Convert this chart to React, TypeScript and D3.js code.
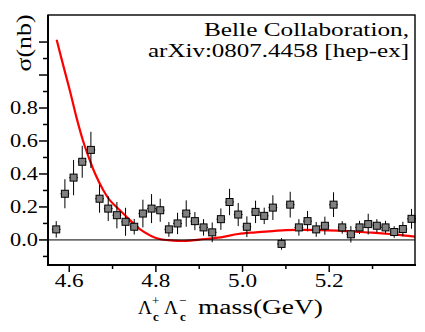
import React from "react";
import * as d3 from "d3";

const massBins = [4.57, 4.59, 4.61, 4.63, 4.65, 4.67, 4.69, 4.71, 4.73, 4.75, 4.77, 4.79, 4.81, 4.83, 4.85, 4.87, 4.89, 4.91, 4.93, 4.95, 4.97, 4.99, 5.01, 5.03, 5.05, 5.07, 5.09, 5.11, 5.13, 5.15, 5.17, 5.19, 5.21, 5.23, 5.25, 5.27, 5.29, 5.31, 5.33, 5.35, 5.37, 5.39];
const sigmaValues = [0.064, 0.28, 0.378, 0.474, 0.546, 0.25, 0.19, 0.15, 0.11, 0.08, 0.16, 0.19, 0.18, 0.064, 0.10, 0.16, 0.114, 0.076, 0.046, 0.126, 0.23, 0.154, 0.08, 0.17, 0.146, 0.196, -0.024, 0.214, 0.076, 0.114, 0.064, 0.086, 0.214, 0.076, 0.034, 0.076, 0.096, 0.086, 0.076, 0.048, 0.066, 0.128];
const sigmaErrors = [0.05, 0.088, 0.107, 0.097, 0.11, 0.085, 0.075, 0.08, 0.085, 0.047, 0.084, 0.088, 0.07, 0.045, 0.065, 0.08, 0.055, 0.05, 0.06, 0.065, 0.08, 0.07, 0.063, 0.068, 0.05, 0.075, 0.035, 0.078, 0.05, 0.062, 0.045, 0.055, 0.075, 0.038, 0.05, 0.04, 0.063, 0.04, 0.04, 0.035, 0.044, 0.06];
const binHalfWidth = 0.01;

const fitMass = [4.571, 4.586, 4.602, 4.617, 4.632, 4.648, 4.66, 4.679, 4.694, 4.717, 4.74, 4.763, 4.8, 4.84, 4.87, 4.9, 4.95, 4.99, 5.03, 5.07, 5.1, 5.14, 5.18, 5.22, 5.26, 5.3, 5.34, 5.37, 5.4];
const fitSigma = [1.214, 1.06, 0.9, 0.74, 0.6, 0.48, 0.4, 0.3, 0.24, 0.18, 0.12, 0.065, 0.012, -0.004, -0.006, 0.002, 0.016, 0.036, 0.046, 0.054, 0.06, 0.061, 0.06, 0.056, 0.05, 0.044, 0.036, 0.028, 0.02];

const xMajorTicks = [4.6, 4.8, 5.0, 5.2];
const xMinorTicks = [4.7, 4.9, 5.1, 5.3];
const yMajorTicks = [0.0, 0.2, 0.4, 0.6, 0.8, 1.0, 1.2];
const yLabeledTicks = [0.0, 0.2, 0.4, 0.6, 0.8];
const yMinorTicks = [-0.1, 0.1, 0.3, 0.5, 0.7, 0.9, 1.1];

const titleLines = ["Belle Collaboration,", "arXiv:0807.4458 [hep-ex]"];
const titleWidths = [205, 261];

const W = 425, H = 332;
const L = 48, R = 415, T = 15, B = 265;
const FONT = '"Liberation Serif", "DejaVu Serif", "Times New Roman", Times, serif';
const fontStyle = { fontFamily: FONT };

export default function App() {
  const x = d3.scaleLinear().domain([4.551, 5.398]).range([L, R]);
  const y = d3.scaleLinear().domain([-0.152, 1.364]).range([B, T]);

  const fitPts = fitMass.map((m, i) => [m, fitSigma[i]] as [number, number]);
  const line = d3
    .line<[number, number]>()
    .x((d) => x(d[0]))
    .y((d) => y(d[1]))
    .curve(d3.curveCatmullRom.alpha(0.5));

  const box = 7;
  const fmt = d3.format(".1f");

  return (
    <svg
      width={W}
      height={H}
      viewBox={`0 0 ${W} ${H}`}
      style={{ position: "absolute", left: 0, top: 0, background: "#fff" }}
    >
      <defs>
        <clipPath id="plotclip">
          <rect x={L} y={T} width={R - L} height={B - T} />
        </clipPath>
      </defs>
      <rect x={0} y={0} width={W} height={H} fill="#fff" />

      <path
        d={line(fitPts) || ""}
        fill="none"
        stroke="#ff0000"
        strokeWidth={2.2}
        clipPath="url(#plotclip)"
      />

      <line x1={L} x2={R} y1={y(0)} y2={y(0)} stroke="#000" strokeWidth={1} />

      {massBins.map((m, i) => {
        const cx = x(m);
        const cy = y(sigmaValues[i]);
        return (
          <g key={i}>
            <line
              x1={cx}
              x2={cx}
              y1={y(sigmaValues[i] + sigmaErrors[i])}
              y2={y(sigmaValues[i] - sigmaErrors[i])}
              stroke="#000"
              strokeWidth={1}
            />
            <line
              x1={x(m - binHalfWidth)}
              x2={x(m + binHalfWidth)}
              y1={cy}
              y2={cy}
              stroke="#000"
              strokeWidth={1}
            />
            <rect
              x={cx - box / 2}
              y={cy - box / 2}
              width={box}
              height={box}
              fill="#808080"
              stroke="#000"
              strokeWidth={1}
            />
          </g>
        );
      })}

      <rect x={L} y={T} width={R - L} height={B - T} fill="none" stroke="#000" strokeWidth={1.4} />
      <line x1={L} x2={L} y1={T} y2={B + 1} stroke="#000" strokeWidth={2} />
      <line x1={L - 1} x2={R + 1} y1={B} y2={B} stroke="#000" strokeWidth={2} />

      {yMajorTicks.map((t) => (
        <line key={"ym" + t} x1={L - 9} x2={L} y1={y(t)} y2={y(t)} stroke="#000" strokeWidth={1.5} />
      ))}
      {yMinorTicks.map((t) => (
        <line key={"yn" + t} x1={L - 5} x2={L} y1={y(t)} y2={y(t)} stroke="#000" strokeWidth={1.5} />
      ))}
      {yLabeledTicks.map((t) => (
        <text
          key={"yl" + t}
          x={L - 10}
          y={y(t)}
          dy="0.35em"
          textAnchor="end"
          style={fontStyle}
          fontSize={18}
          textLength={28}
          lengthAdjust="spacingAndGlyphs"
        >
          {fmt(t)}
        </text>
      ))}

      {xMajorTicks.map((t) => (
        <line key={"xm" + t} x1={x(t)} x2={x(t)} y1={B} y2={B + 7} stroke="#000" strokeWidth={1.5} />
      ))}
      {xMinorTicks.map((t) => (
        <line key={"xn" + t} x1={x(t)} x2={x(t)} y1={B} y2={B + 4} stroke="#000" strokeWidth={1.5} />
      ))}
      {xMajorTicks.map((t) => (
        <text
          key={"xl" + t}
          x={x(t)}
          y={287}
          textAnchor="middle"
          style={fontStyle}
          fontSize={18}
          textLength={29}
          lengthAdjust="spacingAndGlyphs"
        >
          {fmt(t)}
        </text>
      ))}

      <g style={fontStyle}>
        <text x={138} y={314} fontSize={19} textLength={14} lengthAdjust="spacingAndGlyphs">Λ</text>
        <text x={152} y={305} fontSize={13}>+</text>
        <text x={153} y={321} fontSize={13} fontWeight="bold">c</text>
        <text x={164} y={314} fontSize={19} textLength={14} lengthAdjust="spacingAndGlyphs">Λ</text>
        <text x={179} y={305} fontSize={13}>−</text>
        <text x={180} y={321} fontSize={13} fontWeight="bold">c</text>
        <text x={198} y={314} fontSize={20} textLength={125} lengthAdjust="spacingAndGlyphs">mass(GeV)</text>
      </g>

      <text
        transform={`translate(31, 43) rotate(-90)`}
        textAnchor="middle"
        style={fontStyle}
        fontSize={21}
        textLength={57}
        lengthAdjust="spacingAndGlyphs"
      >
        σ(nb)
      </text>

      {titleLines.map((s, i) => (
        <text
          key={s}
          x={409}
          y={36 + i * 21}
          textAnchor="end"
          style={fontStyle}
          fontSize={19}
          textLength={titleWidths[i]}
          lengthAdjust="spacingAndGlyphs"
        >
          {s}
        </text>
      ))}
    </svg>
  );
}
